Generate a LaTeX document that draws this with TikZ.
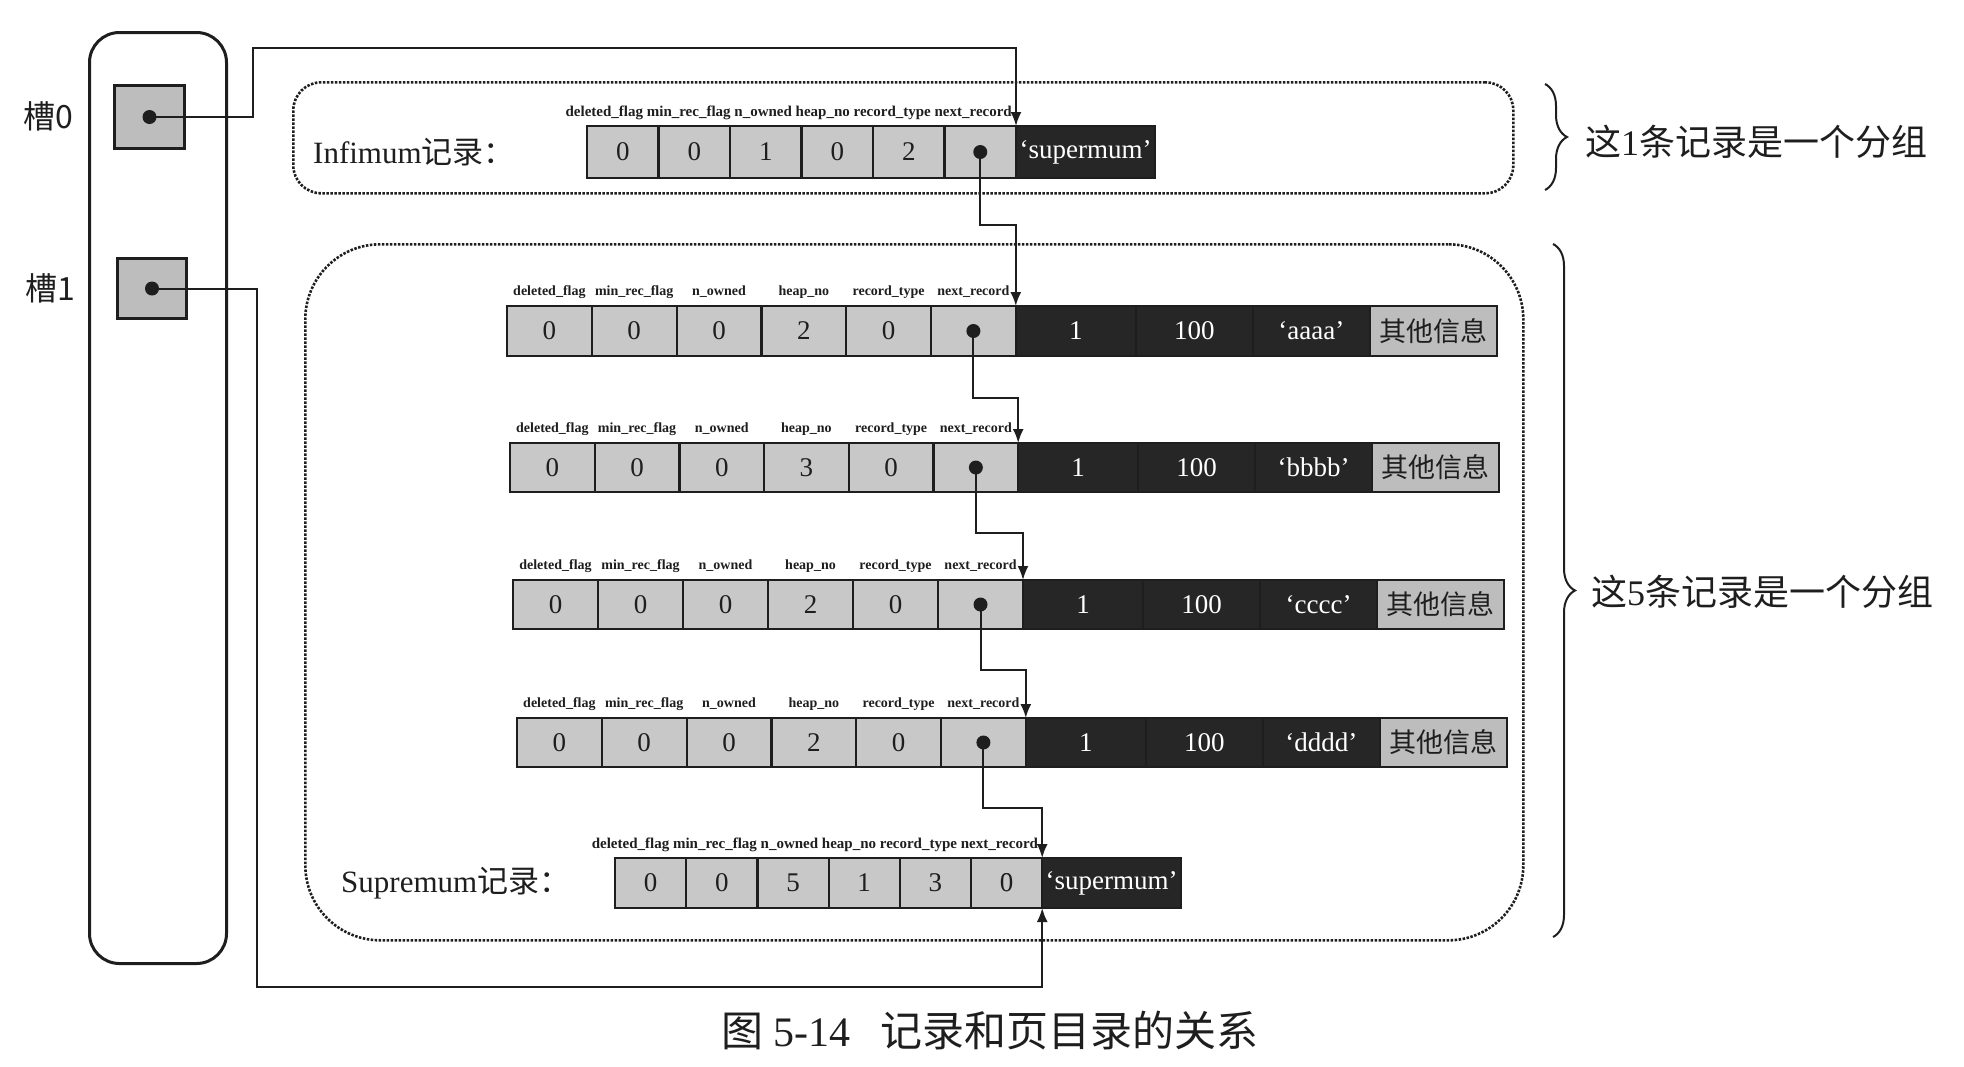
\documentclass[tikz,border=0pt]{standalone}
\usepackage{fontspec}
\setmainfont{Liberation Serif}
\newfontfamily\cjk{Noto Sans CJK SC}
\usetikzlibrary{arrows.meta,decorations.pathreplacing,calc}
\definecolor{lite}{HTML}{C8C8C8}
\definecolor{dark}{HTML}{262626}
\definecolor{ink}{HTML}{1E1E1E}
\definecolor{slotgray}{HTML}{BDBDBD}
\newcommand\fs[1]{\fontsize{#1}{#1}\selectfont}
% name, x0, ytop, cell width, height, values
\newcommand\recrow[6]{%
  \foreach \v [count=\i] in {#6}{%
    \node[cell, minimum width=#4pt, minimum height=#5pt] (#1c\i) at ({#2+(\i-1)*#4},#3) {\v};
  }
  \fill[ink] (#1c6.center) circle (7pt);
}
\newcommand\rowlabels[1]{%
  \foreach \t [count=\i] in {deleted\_flag,min\_rec\_flag,n\_owned,heap\_no,record\_type,next\_record}{%
    \node[flab] (#1l\i) at ($(#1c\i.north)+(0,-11)$) {\t};
  }
}
\newcommand\datacells[3]{%
  \node[dcell, minimum width=120pt, minimum height=#2pt] (#1d1) at (#1c6.north east) {1};
  \node[dcell, minimum width=117pt, minimum height=#2pt] (#1d2) at (#1d1.north east) {100};
  \node[dcell, minimum width=117pt, minimum height=#2pt] (#1d3) at (#1d2.north east) {`#3'};
  \node[cell, fill=slotgray, minimum width=127pt, minimum height=#2pt] (#1d4) at (#1d3.north east) {\cjk 其他信息};
}
\begin{document}
\begin{tikzpicture}[x=1pt,y=-1pt,
  cell/.style={draw=ink, line width=2.2pt, fill=lite, inner sep=0pt, outer sep=0pt, anchor=north west, font=\fs{27}, text=ink},
  dcell/.style={cell, fill=dark, text=white},
  flab/.style={font=\bfseries\fs{14}, text=ink, anchor=base, inner sep=0pt},
  ptr/.style={draw=ink, line width=2pt, -{Latex[length=14pt,width=11pt]}},
  grp/.style={draw=ink, line width=2.6pt, dash pattern=on 2.5pt off 1.5pt, inner sep=0pt, anchor=north west},
  slot/.style={draw=ink, line width=3pt, fill=slotgray, inner sep=0pt, anchor=north west},
  txt/.style={text=ink, inner sep=0pt},
  brc/.style={draw=ink, line width=2pt, decorate, decoration={brace, amplitude=22pt}}
]
\useasboundingbox (0,0) rectangle (1964,1066);

% slot directory
\node[draw=ink, line width=3pt, rounded corners=30pt, minimum width=137pt, minimum height=931pt, anchor=north west] (dir) at (88,31) {};
\node[slot, minimum width=70pt, minimum height=63pt] (s0) at (113,84) {};
\node[slot, minimum width=69pt, minimum height=60pt] (s1) at (116,257) {};
\fill[ink] (s0.center) circle (7pt);
\fill[ink] (s1.center) circle (7pt);
\node[txt, font=\cjk\fs{32}] (l0) at (48,116) {槽0};
\node[txt, font=\cjk\fs{32}] (l1) at (50,288) {槽1};

% groups
\node[grp, rounded corners=28pt, minimum width=1220pt, minimum height=111pt] (g1) at (292,81) {};
\node[grp, rounded corners=75pt, minimum width=1218pt, minimum height=696pt] (g2) at (304,243) {};

% braces
\coordinate (b1t) at (1545,84);  \coordinate (b1b) at (1545,190);
\coordinate (b2t) at (1553,244); \coordinate (b2b) at (1553,937);
\draw[brc] (b1t) -- (b1b);
\draw[brc] (b2t) -- (b2b);
\node[txt, anchor=west, font=\fs{36}] (n1) at (1585,142) {{\cjk 这}1{\cjk 条记录是一个分组}};
\node[txt, anchor=west, font=\fs{36}] (n2) at (1591,592) {{\cjk 这}5{\cjk 条记录是一个分组}};

% infimum
\node[txt, anchor=west, font=\fs{31}] (inflab) at (313,152) {Infimum{\cjk 记录：}};
\recrow{i}{587}{126}{71.5}{52}{0,0,1,0,2,{}}
\node[dcell, minimum width=139pt, minimum height=52pt] (isup) at (ic6.north east) {`supermum'};
\node[flab, anchor=base east, font=\bfseries\fs{15}] (ilab) at ($(ic6.north east)+(-4,-10)$) {deleted\_flag min\_rec\_flag n\_owned heap\_no record\_type next\_record};

% user records
\recrow{ra}{507}{306}{84.8}{50}{0,0,0,2,0,{}}
\rowlabels{ra}
\datacells{ra}{50}{aaaa}
\recrow{rb}{510}{443}{84.7}{49}{0,0,0,3,0,{}}
\rowlabels{rb}
\datacells{rb}{49}{bbbb}
\recrow{rc}{513}{580}{85}{49}{0,0,0,2,0,{}}
\rowlabels{rc}
\datacells{rc}{49}{cccc}
\recrow{rd}{517}{718}{84.8}{49}{0,0,0,2,0,{}}
\rowlabels{rd}
\datacells{rd}{49}{dddd}

% supremum
\node[txt, anchor=west, font=\fs{31}] (suplab) at (341,883) {Supremum{\cjk 记录：}};
\recrow{s}{615}{858}{71.2}{50}{0,0,5,1,3,0}
\fill[lite] (sc6.center) circle (8pt);
\node[font=\fs{27}, text=ink, inner sep=0pt] at (sc6.center) {0};
\node[dcell, minimum width=139pt, minimum height=50pt] (ssup) at (sc6.north east) {`supermum'};
\node[flab, anchor=base east, font=\bfseries\fs{15}] (slab) at ($(sc6.north east)+(-4,-10)$) {deleted\_flag min\_rec\_flag n\_owned heap\_no record\_type next\_record};

% pointers
\coordinate (t0) at (253,48);
\coordinate (t1) at (257,987);
\draw[ptr] (s0.center) -| (t0) -| (ic6.north east);
\draw[ptr] (s1.center) -| (t1) -| (sc6.south east);
\draw[ptr] (ic6.center) -- ++(0,73) -| (rac6.north east);
\draw[ptr] (rac6.center) -- ++(0,67) -| (rbc6.north east);
\draw[ptr] (rbc6.center) -- ++(0,65) -| (rcc6.north east);
\draw[ptr] (rcc6.center) -- ++(0,65) -| (rdc6.north east);
\draw[ptr] (rdc6.center) -- ++(0,65) -| (sc6.north east);

% caption
\node[txt, font=\fs{42}] (cap) at (990,1031) {{\cjk 图} 5-14\hspace{30pt}{\cjk 记录和页目录的关系}};
\end{tikzpicture}
\end{document}
